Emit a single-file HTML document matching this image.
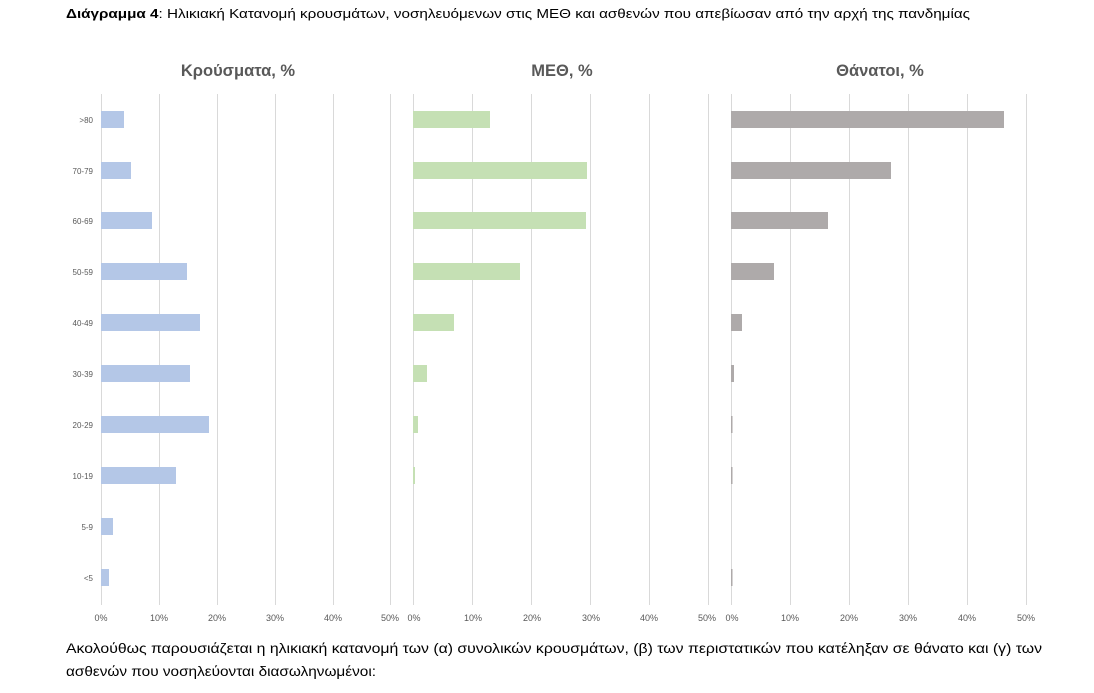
<!DOCTYPE html>
<html><head><meta charset="utf-8"><style>
html,body{margin:0;padding:0;background:#fff;}
body{width:1094px;height:688px;overflow:hidden;}
text{font-family:"Liberation Sans","DejaVu Sans",sans-serif;}
</style></head><body>
<svg width="1094" height="688" xmlns="http://www.w3.org/2000/svg">
<text x="66" y="18" font-size="13" fill="#000" textLength="904" lengthAdjust="spacingAndGlyphs"><tspan font-weight="bold">Διάγραμμα 4</tspan>: Ηλικιακή Κατανομή κρουσμάτων, νοσηλευόμενων στις ΜΕΘ και ασθενών που απεβίωσαν από την αρχή της πανδημίας</text>

<g font-weight="bold" font-size="16.5" fill="#595959" text-anchor="middle">
<text x="238" y="76">Κρούσματα, %</text>
<text x="562" y="76">ΜΕΘ, %</text>
<text x="880" y="76">Θάνατοι, %</text>
</g>

<g stroke="#d9d9d9" stroke-width="1">
<line x1="101.5" y1="94" x2="101.5" y2="605"/><line x1="159.5" y1="94" x2="159.5" y2="605"/><line x1="217.5" y1="94" x2="217.5" y2="605"/><line x1="275.5" y1="94" x2="275.5" y2="605"/><line x1="333.5" y1="94" x2="333.5" y2="605"/><line x1="390.5" y1="94" x2="390.5" y2="605"/>
<line x1="413.5" y1="94" x2="413.5" y2="605"/><line x1="472.5" y1="94" x2="472.5" y2="605"/><line x1="531.5" y1="94" x2="531.5" y2="605"/><line x1="590.5" y1="94" x2="590.5" y2="605"/><line x1="649.5" y1="94" x2="649.5" y2="605"/><line x1="708.5" y1="94" x2="708.5" y2="605"/>
<line x1="731.5" y1="94" x2="731.5" y2="605"/><line x1="790.5" y1="94" x2="790.5" y2="605"/><line x1="849.5" y1="94" x2="849.5" y2="605"/><line x1="908.5" y1="94" x2="908.5" y2="605"/><line x1="967.5" y1="94" x2="967.5" y2="605"/><line x1="1026.5" y1="94" x2="1026.5" y2="605"/>
</g>

<g font-size="8" fill="#595959" text-anchor="end">
<text x="93" y="123">&gt;80</text><text x="93" y="174">70-79</text><text x="93" y="224">60-69</text><text x="93" y="275">50-59</text><text x="93" y="326">40-49</text><text x="93" y="377">30-39</text><text x="93" y="428">20-29</text><text x="93" y="479">10-19</text><text x="93" y="530">5-9</text><text x="93" y="581">&lt;5</text>
</g>

<g fill="#b4c7e7">
<rect x="101" y="111" width="23" height="17"/><rect x="101" y="162" width="30" height="17"/><rect x="101" y="212" width="51" height="17"/><rect x="101" y="263" width="86" height="17"/><rect x="101" y="314" width="99" height="17"/><rect x="101" y="365" width="89" height="17"/><rect x="101" y="416" width="108" height="17"/><rect x="101" y="467" width="75" height="17"/><rect x="101" y="518" width="12" height="17"/><rect x="101" y="569" width="8" height="17"/>
</g>
<g fill="#c5e0b4">
<rect x="413" y="111" width="77" height="17"/><rect x="413" y="162" width="174" height="17"/><rect x="413" y="212" width="173" height="17"/><rect x="413" y="263" width="107" height="17"/><rect x="413" y="314" width="41" height="17"/><rect x="413" y="365" width="14" height="17"/><rect x="413" y="416" width="5" height="17"/><rect x="413" y="467" width="2" height="17"/>
</g>
<g fill="#aeaaaa">
<rect x="731" y="111" width="273" height="17"/><rect x="731" y="162" width="160" height="17"/><rect x="731" y="212" width="97" height="17"/><rect x="731" y="263" width="43" height="17"/><rect x="731" y="314" width="11" height="17"/><rect x="731" y="365" width="3" height="17"/><rect x="731" y="416" width="1.5" height="17"/><rect x="731" y="467" width="1.5" height="17"/><rect x="731" y="569" width="1.5" height="17"/>
</g>

<g font-size="9" fill="#595959" text-anchor="middle">
<text x="101" y="621">0%</text><text x="159" y="621">10%</text><text x="217" y="621">20%</text><text x="275" y="621">30%</text><text x="333" y="621">40%</text><text x="390" y="621">50%</text>
<text x="414" y="621">0%</text><text x="473" y="621">10%</text><text x="532" y="621">20%</text><text x="591" y="621">30%</text><text x="649" y="621">40%</text><text x="707" y="621">50%</text>
<text x="732" y="621">0%</text><text x="790" y="621">10%</text><text x="849" y="621">20%</text><text x="908" y="621">30%</text><text x="967" y="621">40%</text><text x="1026" y="621">50%</text>
</g>

<text x="66" y="653" font-size="14" fill="#000" textLength="976" lengthAdjust="spacingAndGlyphs">Ακολούθως παρουσιάζεται η ηλικιακή κατανομή των (α) συνολικών κρουσμάτων, (β) των περιστατικών που κατέληξαν σε θάνατο και (γ) των</text>
<text x="66" y="676" font-size="14" fill="#000" textLength="310" lengthAdjust="spacingAndGlyphs">ασθενών που νοσηλεύονται διασωληνωμένοι:</text>
</svg>
</body></html>
